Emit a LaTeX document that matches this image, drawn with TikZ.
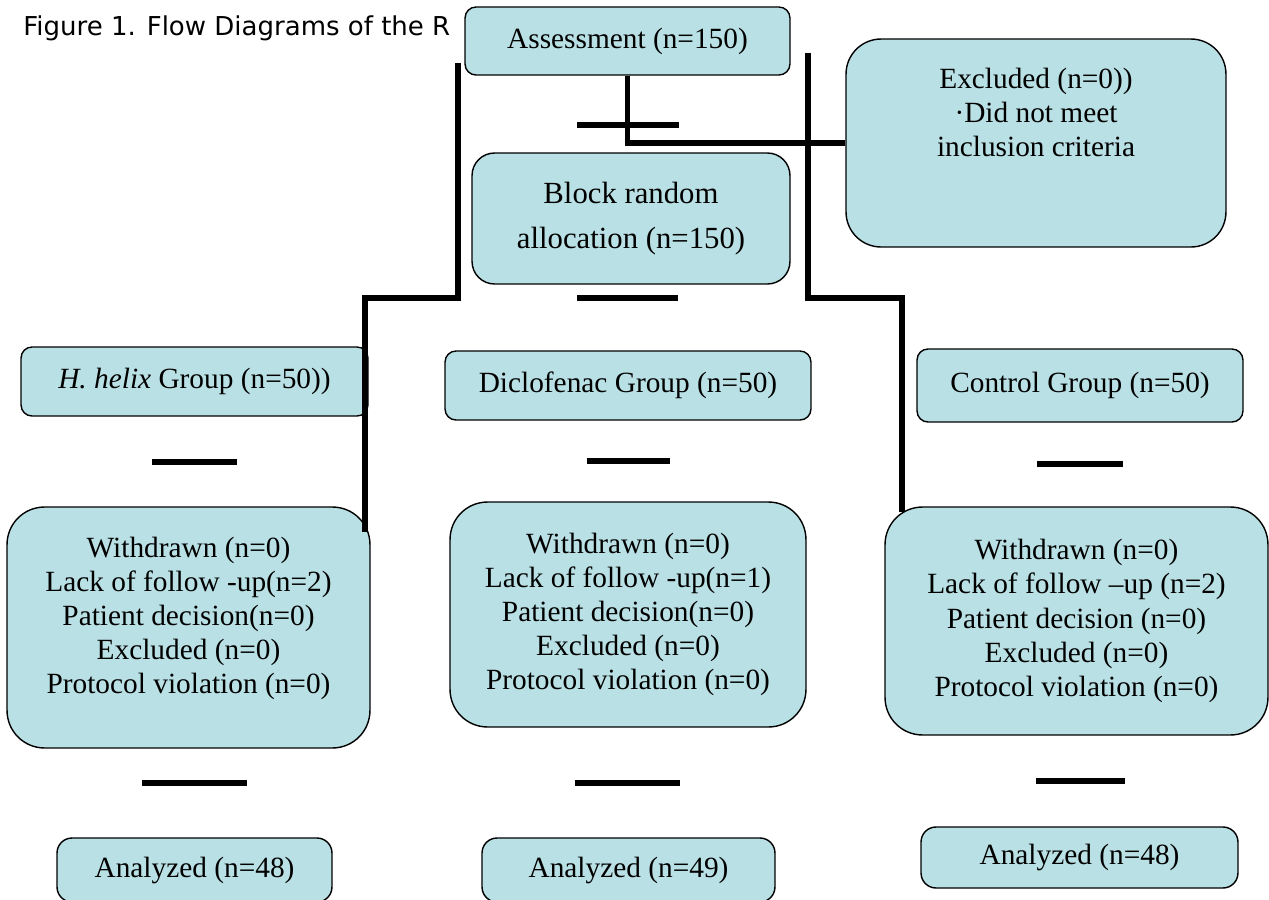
\documentclass[tikz,border=0pt]{standalone}
\usepackage{fontspec}
\setmainfont{Liberation Serif}
\newfontfamily\titlefont{DejaVu Sans}
\usetikzlibrary{calc}
\definecolor{boxfill}{RGB}{185,224,228}

\begin{document}
\begin{tikzpicture}[x=0.02cm, y=-0.02cm]
    % --- Style Definitions ---
    \tikzset{
        % Boxes
        flow box/.style={
            draw=black,
            line width=0.8pt,
            fill=boxfill,
            align=center,
            inner sep=0pt,
            font=\fontsize{16.7}{19.4}\selectfont
        },
        small box/.style={flow box, rounded corners=0.22cm},
        big box/.style={flow box, rounded corners=0.75cm},
        % Lines
        link/.style={draw=black, line width=3.3pt},
        stub/.style={draw=black, line width=3pt},
        % Text styling
        title text/.style={font=\titlefont\fontsize{14.8}{17}\selectfont, anchor=base west, inner sep=0pt}
    }
    \useasboundingbox (0,0) rectangle (1269,900);

    % Title (partly hidden by the first box)
    \node[title text] (title) at (23,35) {Figure 1. Flow Diagrams of the R};

    % ==========================================
    % TOP: assessment, allocation, exclusion
    % ==========================================
    \node[small box, minimum width=6.5cm, minimum height=1.36cm] (assess) at (627.5,41) {Assessment (n=150)};
    \node[flow box, rounded corners=0.45cm, minimum width=6.36cm, minimum height=2.62cm,
          font=\fontsize{17.5}{25.6}\selectfont] (block) at (631,218.5) {Block random\\allocation (n=150)};
    \node[flow box, rounded corners=0.7cm] (excl) at (1036,143)
        {\parbox[c][4.16cm][t]{7.6cm}{\centering\vspace*{0.58cm}Excluded (n=0))\\ ·Did not meet\\ inclusion criteria}};

    % ==========================================
    % GROUPS
    % ==========================================
    \node[small box, minimum width=6.94cm, minimum height=1.38cm] (gH) at (194.5,381.5) {\textit{H. helix} Group (n=50))};
    \node[small box, minimum width=7.32cm, minimum height=1.38cm] (gD) at (628,385.5) {Diclofenac Group (n=50)};
    \node[small box, minimum width=6.52cm, minimum height=1.46cm] (gC) at (1080,385.5) {Control Group (n=50)};

    % Follow-up
    \node[big box, minimum width=7.26cm, minimum height=4.82cm] (wL) at (188.5,627.5)
        {Withdrawn (n=0)\\Lack of follow -up(n=2)\\Patient decision(n=0)\\Excluded (n=0)\\Protocol violation (n=0)\\[-0.2cm]};
    \node[big box, minimum width=7.12cm, minimum height=4.5cm] (wD) at (628,614.5)
        {Withdrawn (n=0)\\Lack of follow -up(n=1)\\Patient decision(n=0)\\Excluded (n=0)\\Protocol violation (n=0)};
    \node[big box, minimum width=7.66cm, minimum height=4.56cm] (wC) at (1076.5,621)
        {Withdrawn (n=0)\\Lack of follow --up (n=2)\\Patient decision (n=0)\\Excluded (n=0)\\Protocol violation (n=0)};

    % Analysis
    \node[small box, rounded corners=0.3cm, minimum width=5.5cm, minimum height=1.28cm] (aL) at (194.5,870) {Analyzed (n=48)};
    \node[small box, rounded corners=0.3cm, minimum width=5.86cm, minimum height=1.28cm] (aD) at (628.5,870) {Analyzed (n=49)};
    \node[small box, rounded corners=0.3cm, minimum width=6.34cm, minimum height=1.22cm] (aC) at (1079.5,857.5) {Analyzed (n=48)};

    % ==========================================
    % CONNECTORS
    % ==========================================
    \coordinate (lTop) at (458,63);
    \coordinate (lTurn) at (365,298);
    \coordinate (rTop) at (808,53);
    \coordinate (rTurn) at (902,298);

    \draw[link] (assess.south) |- (excl.west);
    \draw[link] (lTop) |- (lTurn) -- ($(lTurn |- wL.north)+(0,26)$);
    \draw[link] (rTop) |- (rTurn) -- ($(rTurn |- wC.north)+(0,6)$);

    % short bars
    \foreach \xa/\xb/\yy in {577/679/125, 577/678/298,
                             152/237/462, 587/670/461, 1037/1123/464,
                             142/247/783, 575/680/783, 1036/1125/781}
        \draw[stub] (\xa,\yy) -- (\xb,\yy);

\end{tikzpicture}
\end{document}
